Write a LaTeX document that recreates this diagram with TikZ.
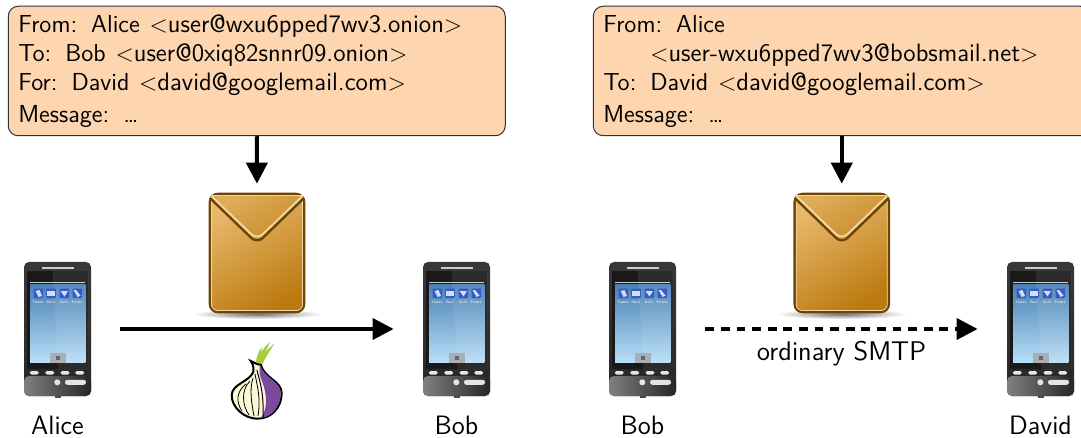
\documentclass[tikz,border=0pt]{standalone}
\usepackage{tikz}
\usetikzlibrary{arrows.meta,%
                shapes,positioning}
\definecolor{mailpeach}{HTML}{FDD6B0}
\definecolor{envdark}{HTML}{6B4503}
\definecolor{envlight}{HTML}{E8B96C}
\definecolor{envdeep}{HTML}{BC7A10}
\definecolor{envedge}{HTML}{F2D6A4}
\definecolor{screentop}{HTML}{4A80B4}
\definecolor{screenlow}{HTML}{B8DFF7}
\definecolor{torpurple}{HTML}{7B4A9C}
\definecolor{torcream}{HTML}{FBF8D8}
\definecolor{torgreen}{HTML}{A5CF3A}
\newcommand{\addr}[1]{\hspace{0.8pt}{\fontsize{12.6}{14.5}\selectfont$<$#1$>$}}
\newcommand{\colgap}{\hspace{7pt}}
\tikzset{
  mailbox/.style={draw=black!80, line width=0.5pt, fill=mailpeach, rounded corners=5pt,
    minimum width=248.5pt, minimum height=64.75pt, text width=238.5pt, inner sep=0pt,
    align=left, font=\sffamily\fontsize{12.3}{14.5}\selectfont},
  flow/.style={line width=2pt, -{Triangle[length=10.5pt,width=10.5pt]}},
  phonebody/.style={rounded corners=2.5pt, minimum width=33.5pt, minimum height=67pt, inner sep=0pt,
    top color=black!78, bottom color=black!85},
  phonelabel/.style={font=\sffamily\fontsize{13.3}{16}\selectfont, inner sep=0pt},
  appicon/.style={fill=screentop!70!blue, rounded corners=0.5pt, minimum size=4.8pt, inner sep=0pt},
  applabel/.style={font=\ttfamily\fontsize{2.1}{2.5}\selectfont, text=white, inner sep=0pt},
  hwkey/.style={fill=black!10, rounded corners=0.8pt},
  phone/.pic={
    \fill[black!70] (-3,66) rectangle (3,68.5);
    \node[phonebody] (-body) at (0,0) {};
    \shade[left color=black!50, right color=black!85, rounded corners=2.5pt] (-33.5,47) -- (-33.5,67) -- (33.5,67) -- (33.5,47) -- cycle;
    \fill[black!90] (-30.2,-58) rectangle (30.8,40.3);
    \shade[top color=screentop, bottom color=screenlow] (-27.5,-44.7) rectangle (27.8,33.7);
    \fill[white, opacity=0.08] (-5,-58) -- (30.8,-58) -- (30.8,40.3) -- (1,40.3) -- cycle;
    \fill[black!20] (-15.8,-62.3) rectangle (16.5,-59.7);
    \fill[black!20] (-27.5,-47.4) rectangle (27.8,-46);
    \node[appicon] (-a) at (-19.2,-35.7) {};
    \node[appicon] (-b) at (-6.5,-35.7) {};
    \node[appicon] (-c) at (6.8,-35.7) {};
    \node[appicon] (-d) at (19.8,-35.7) {};
    \fill[white, opacity=0.8] (-22,-38) -- (-18,-39) -- (-15.5,-33) -- (-19,-32) -- cycle;
    \fill[white, opacity=0.8] (-10.5,-38.5) rectangle (-2.5,-33);
    \fill[white, opacity=0.8] (3,-38) -- (10.5,-38) -- (7,-32.5) -- cycle;
    \fill[white, opacity=0.8] (16,-39) -- (18.5,-39) -- (23,-33.5) -- (20,-32) -- cycle;
    \node[applabel] (-la) at (-19.2,-26.7) {Tweet};
    \node[applabel] (-lb) at (-6.5,-26.7) {Mail};
    \node[applabel] (-lc) at (6.8,-26.7) {Wifi};
    \node[applabel] (-ld) at (19.8,-26.7) {Point};
    \fill[black!35, opacity=0.8] (-7.5,24.3) rectangle (8.2,33.7);
    \fill[black!60] (-2,27) rectangle (2.5,31);
    \fill[hwkey] (-27.7,42) rectangle (-18.7,45.5);
    \fill[hwkey] (-12.3,42) rectangle (-3.3,45.5);
    \fill[hwkey] (3,42) rectangle (12,45.5);
    \fill[hwkey] (17.7,42) rectangle (26.7,45.5);
    \fill[black!10] (-0.2,53.3) circle (1.5pt);
    \fill[black!10, rounded corners=1.2pt] (7.5,50.8) rectangle (28.5,55.8);
  },
  mailenv/.pic={
    \shade[inner color=black!55, outer color=white] (0,61) ellipse (65 and 5);
    \node[draw=envdark, line width=1.2pt, rounded corners=4pt, minimum width=47.1pt, minimum height=59.1pt, inner sep=0pt,
      left color=envlight, right color=envdeep, shading angle=30] (-body) at (0,0) {};
    \draw[envedge, line width=0.4pt, rounded corners=3pt] (-45.5,-56) -- (-45.5,57.5) -- (45.5,57.5) -- (45.5,-56);
    \shade[left color=envlight!80!envdeep, right color=envdeep!70!envlight, shading angle=30] (-45.5,-57) -- (0,-15) -- (45.5,-57) -- cycle;
    \draw[envdark, line width=1.2pt, rounded corners=4pt] (-47,-55) -- (0,-9.5) -- (47,-55);
    \draw[envedge, line width=0.9pt, rounded corners=4pt] (-45.5,-57) -- (0,-13.3) -- (45.5,-57);
    \draw[envedge, line width=0.8pt] (-45.5,-57.3) -- (45.5,-57.3);
  },
  toronion/.pic={
    \fill[torgreen] (-2,-26) .. controls (1,-34) and (6,-42) .. (13,-48) .. controls (10,-41) and (7,-34) .. (3,-25) -- cycle;
    \fill[torgreen] (0,-26) .. controls (4,-34) and (11,-41) .. (18,-47) .. controls (13,-40) and (9,-33) .. (5,-25) -- cycle;
    \fill[torgreen] (-1,-26) .. controls (-1,-32) and (1,-38) .. (5,-43) .. controls (4,-37) and (3,-31) .. (2,-26) -- cycle;
    \draw[fill=torcream, line width=1pt] (-6.3,-29) .. controls (-4,-26) and (-3,-22) .. (-3.7,-18) .. controls (-8,-8) and (-25,-6) .. (-25.3,5) .. controls (-25.5,18) and (-12,28.7) .. (0.3,28.7) .. controls (14,28.7) and (24.7,18) .. (24.7,3) .. controls (24.7,-9) and (7,-12) .. (4,-25) -- (0,-26) -- cycle;
    \fill[torpurple] (3,-25) .. controls (7,-12) and (23.7,-9) .. (23.7,3) .. controls (23.7,17) and (14,27.7) .. (4,27.7) .. controls (10,20) and (10,8) .. (7,-3) .. controls (5,-10) and (1,-15) .. cycle;
    \draw[line width=0.5pt] (0,-20) .. controls (2,-10) and (7,0) .. (6,27);
    \draw[line width=0.4pt] (-2,-16) .. controls (0,-5) and (4,8) .. (1,26);
    \draw[line width=0.4pt] (-4,-12) .. controls (-8,0) and (-5,15) .. (-3,26);
    \draw[line width=0.4pt] (-7,-9) .. controls (-16,0) and (-15,15) .. (-8,25);
    \draw[line width=0.4pt] (-11,-6) .. controls (-21,2) and (-21,12) .. (-15,21);
  }
}
\begin{document}
\begin{tikzpicture}[x=0.5pt,y=-0.5pt]
\useasboundingbox (0,0) rectangle (1081,438);
\node[mailbox] (mailA) at (256.75,71) {From:\colgap Alice \addr{user@wxu6pped7wv3.onion}\\
To:\colgap Bob \addr{user@0xiq82snnr09.onion}\\
For:\colgap David \addr{david@googlemail.com}\\[1.5pt]
Message:\colgap \dots};
\node[mailbox] (mailB) at (841.75,71) {From:\colgap Alice\\
\hspace*{22.7pt}\addr{user-wxu6pped7wv3@bobsmail.net}\\
To:\colgap David \addr{david@googlemail.com}\\[1.5pt]
Message:\colgap \dots};

\pic (alice) at (57.5,329) {phone};
\pic (bobA) at (456.5,329) {phone};
\pic (bobB) at (642.5,329) {phone};
\pic (david) at (1040.5,329) {phone};

\pic (envA) at (257,253) {mailenv};
\pic (envB) at (841.75,253) {mailenv};
\pic (onion) at (257,390) {toronion};

\node[phonelabel, below=9.5pt of alice-body] (aliceName) {Alice};
\node[phonelabel, below=9.5pt of bobA-body] (bobAName) {Bob};
\node[phonelabel, below=9.5pt of bobB-body] (bobBName) {Bob};
\node[phonelabel, below=9.5pt of david-body] (davidName) {David};

\draw[flow] (mailA.south) -- (envA-body.north) [shorten >=4.5pt];
\draw[flow] (mailB.south) -- (envB-body.north) [shorten >=4.5pt];
\draw[flow, shorten <=14.5pt, shorten >=14.5pt] (alice-body.east) -- (bobA-body.west);
\draw[flow, dashed, dash pattern=on 4.4pt off 3.4pt, shorten <=14.5pt, shorten >=14.5pt] (bobB-body.east) -- node[below=2pt, font=\sffamily\fontsize{13.5}{16}\selectfont] (smtp) {ordinary SMTP} (david-body.west);
\end{tikzpicture}
\end{document}
